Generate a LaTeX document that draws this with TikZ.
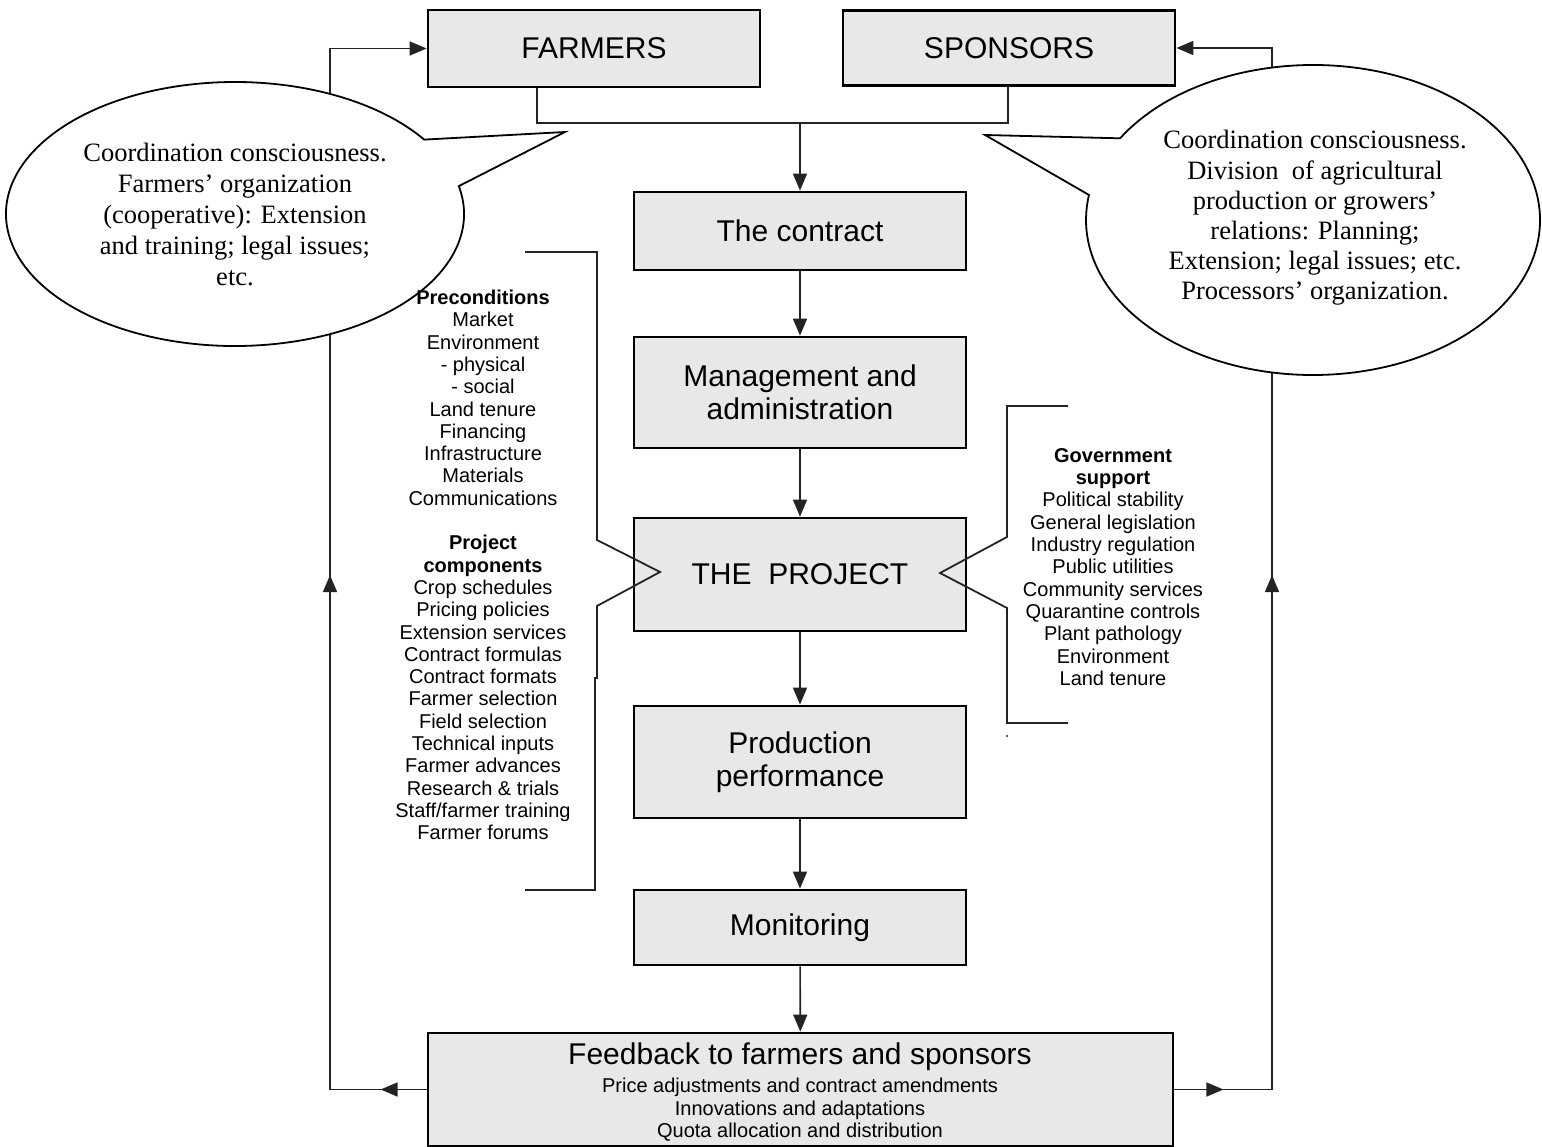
\documentclass[tikz,border=0pt]{standalone}
\usepackage{fontspec}
\setmainfont{Liberation Sans}
\newfontfamily\calloutfont{Liberation Serif}
\usetikzlibrary{arrows.meta,decorations.markings}
\definecolor{boxgray}{RGB}{232,232,232}
\definecolor{linegray}{RGB}{35,35,35}
\begin{document}
\begin{tikzpicture}[x=1pt,y=-1pt,
  >={Triangle[length=17pt,width=14pt]},
  box/.style={draw=black,line width=2.8pt,fill=boxgray,inner sep=0pt,align=center,
    minimum width=332pt,font=\fontsize{30}{33}\selectfont},
  conn/.style={draw=linegray,line width=1.6pt},
  arr/.style={conn,->},
  callout/.style={draw=black,line width=1.8pt,fill=white},
  callouttext/.style={align=center,inner sep=0pt},
  coltext/.style={align=center,inner sep=0pt,font=\fontsize{20}{22.3}\selectfont},
  bracket/.style={draw=linegray,line width=1.8pt},
  midleft/.style={postaction={decorate},decoration={markings,
    mark=at position 46pt with {\arrow{>}},
    mark=at position 611pt with {\arrow{>}}}},
  midright/.style={postaction={decorate},decoration={markings,
    mark=at position 49pt with {\arrow{>}},
    mark=at position 612pt with {\arrow{>}}}}
]
\fill[white] (0,0) rectangle (1542,1147);
\useasboundingbox (0,0) rectangle (1542,1147);

% boxes
\node[box,minimum height=77pt] (farmers) at (594,48.5) {FARMERS};
\node[box,minimum height=75pt] (sponsors) at (1009,48) {SPONSORS};
\node[box,minimum height=78pt] (contract) at (800,231) {The contract};
\node[box,minimum height=111pt] (mgmt) at (800,392.5) {Management and\\administration};
\node[box,minimum height=113pt] (project) at (800,574.5) {THE\ \ PROJECT};
\node[box,minimum height=112pt] (prod) at (800,762) {Production\\performance};
\node[box,minimum height=75pt] (monitor) at (800,927.5) {Monitoring};
\node[box,minimum width=745pt,minimum height=113pt] (fb) at (800.5,1089.5) {};
\node[inner sep=0pt,font=\fontsize{30}{33}\selectfont] (fbtitle) at (800,1057) {Feedback to farmers and sponsors};
\node[coltext,font=\fontsize{20}{22.5}\selectfont] (fbsub) at (800,1110) {Price adjustments and contract amendments\\Innovations and adaptations\\Quota allocation and distribution};

% top junction
\coordinate (fj) at (537,123);
\coordinate (sj) at (1008,123);
\draw[conn] (farmers.south -| fj) -- (fj) -- (sj) -- (sponsors.south -| sj);
\draw[arr] (contract.north |- fj) -- (contract.north);

% main chain
\draw[arr] (contract) -- (mgmt);
\draw[arr] (mgmt) -- (project);
\draw[arr] (project) -- (prod);
\draw[arr] (prod) -- (monitor);
\draw[arr] (monitor) -- (fb);

% feedback loops
\coordinate (lx) at (330,48.5);
\coordinate (rx) at (1272,48);
\draw[arr,midleft] (fb.west) -- (fb.west -| lx) -- (farmers.west -| lx) -- (farmers.west);
\draw[arr,midright] (fb.east) -- (fb.east -| rx) -- (sponsors.east -| rx) -- (sponsors.east);

% callouts
\draw[callout] (235,214) ++(-12.2:229 and 132)
  arc[start angle=-12.2,end angle=325.7,x radius=229,y radius=132]
  -- (565,132) -- cycle;
\node[callouttext,font=\calloutfont\fontsize{26.5}{31}\selectfont] (lct) at (235,214)
  {Coordination consciousness.\\Farmers’ organization\\(cooperative): Extension\\and training; legal issues;\\etc.};

\draw[callout] (1313,220) ++(211.8:227 and 155)
  arc[start angle=211.8,end angle=549.3,x radius=227,y radius=155]
  -- (985,135) -- cycle;
\node[callouttext,font=\calloutfont\fontsize{26.5}{30.2}\selectfont] (rct) at (1315,218)
  {Coordination consciousness.\\Division\ \ of agricultural\\production or growers’\\relations: Planning;\\Extension; legal issues; etc.\\Processors’ organization.};

% brackets
\draw[bracket] (525,252) -- (597,252) -- (597,540) -- (660,572) -- (597,606)
  -- (597,678) -- (595,678) -- (595,890) -- (525,890);
\draw[bracket] (1068,406) -- (1007,406) -- (1007,537) -- (940,573) -- (1007,608)
  -- (1007,723) -- (1068,723);
\fill[linegray] (1007,736) circle (1.2pt);

% side texts
\node[coltext] (precond) at (483,565) {\textbf{Preconditions}\\Market\\Environment\\- physical\\- social\\Land tenure\\Financing\\Infrastructure\\Materials\\Communications\\[22.3pt]
\textbf{Project}\\\textbf{components}\\Crop schedules\\Pricing policies\\Extension services\\Contract formulas\\Contract formats\\Farmer selection\\Field selection\\Technical inputs\\Farmer advances\\Research \& trials\\Staff/farmer training\\Farmer forums};

\node[coltext] (gov) at (1113,567) {\textbf{Government}\\\textbf{support}\\Political stability\\General legislation\\Industry regulation\\Public utilities\\Community services\\Quarantine controls\\Plant pathology\\Environment\\Land tenure};
\end{tikzpicture}
\end{document}
